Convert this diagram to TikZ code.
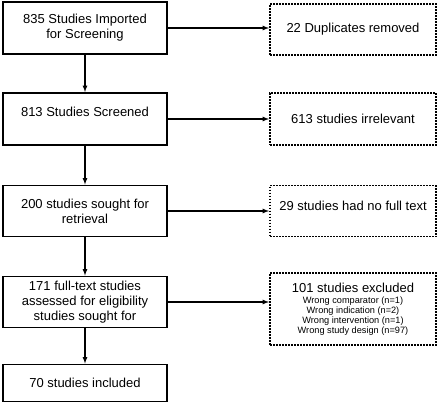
\documentclass[tikz,border=0pt]{standalone}
\usepackage{fontspec}
\setmainfont{Liberation Sans}
\usetikzlibrary{arrows}
\newcommand{\bigTxt}{\fontsize{13}{15}\selectfont}
\newcommand{\smallTxt}{\fontsize{9.2}{9.9}\selectfont}
\tikzstyle{arrow} = [line width=1.2pt,->,>=latex]
\tikzstyle{rec} = [rectangle, minimum width=164pt, minimum height=52pt, align=center, draw=black, line width=1.9pt, font=\bigTxt]
\tikzstyle{dotRec} = [rectangle, minimum width=166pt, minimum height=51pt, align=center, draw=black, line width=1.9pt, dash pattern=on 1.9pt off 1.1pt, font=\bigTxt]

\begin{document}
\begin{tikzpicture}[node distance=91pt]
		\useasboundingbox (0,0) rectangle (440pt,-405pt);
		\node (imported) [rec] at (85pt,-28pt) {835 Studies Imported\\for Screening};
		\node (screened) [rec, below of=imported, text depth=14pt] {813 Studies Screened};
		\node (sought) [rec, below of=screened, yshift=-1pt, minimum height=51pt] {200 studies sought for\\retrieval};
		\node (assessed) [rec, below of=sought, minimum height=51pt] {171 full-text studies\\assessed for eligibility\\studies sought for};
		\node (included) [rec, below of=assessed, yshift=10pt, minimum height=37pt] {70 studies included};
		\node (duplicates) [dotRec, right of=imported, xshift=177pt, yshift=-1.5pt] {22 Duplicates removed};
		\node (irrelevant) [dotRec, right of=screened, xshift=177pt, minimum height=52pt] {613 studies irrelevant};
		\node (nofull) [dotRec, right of=sought, xshift=177pt, text depth=10pt] {29 studies had no full text};
		\node (excluded) [dotRec, right of=assessed, xshift=177pt, yshift=-7pt, minimum height=72pt, font=\smallTxt] {{\bigTxt 101 studies excluded}\\[1pt]Wrong comparator (n=1)\\Wrong indication (n=2)\\Wrong intervention (n=1)\\Wrong study design (n=97)};
		\draw [arrow] (imported) -- (screened);
		\draw [arrow] (screened) -- (sought);
		\draw [arrow] (sought) -- (assessed);
		\draw [arrow] (assessed) -- (included);
		\draw [arrow] (imported.east) -- (imported.east -| duplicates.west);
		\draw [arrow] (screened.east) -- (screened.east -| irrelevant.west);
		\draw [arrow] (sought.east) -- (sought.east -| nofull.west);
		\draw [arrow] (assessed.east) -- (assessed.east -| excluded.west);
	\end{tikzpicture}
\end{document}
